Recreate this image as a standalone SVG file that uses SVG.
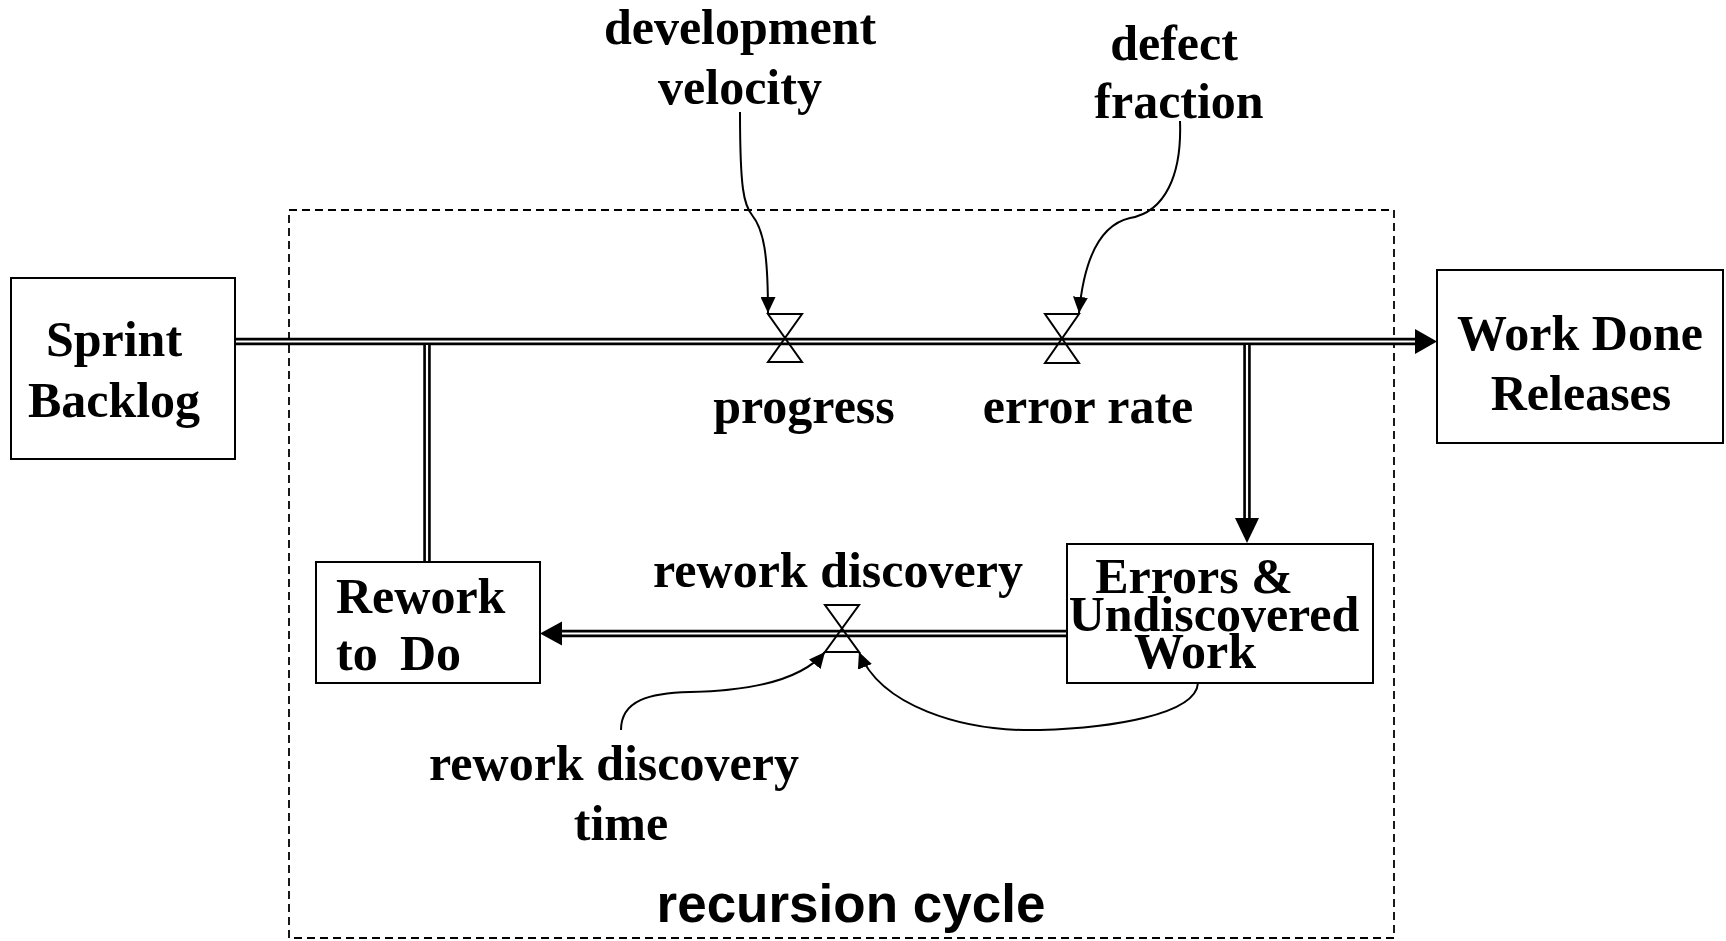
<svg xmlns="http://www.w3.org/2000/svg" width="1726" height="941" viewBox="0 0 1726 941">
  <style>
    .lbl { font-family: "Liberation Serif", "Times New Roman", serif; font-weight: bold; font-size: 50px; fill: #000; }
    .mid { text-anchor: middle; }
    .title { font-family: "Liberation Sans", Arial, sans-serif; font-weight: bold; font-size: 53px; fill: #000; text-anchor: middle; }
    .stock { fill: #fff; stroke: #000; stroke-width: 2; }
    .pipe-out { fill: none; stroke: #000; stroke-width: 7.5; }
    .pipe-in { fill: none; stroke: #fff; stroke-width: 2.2; }
    .valve { fill: none; stroke: #000; stroke-width: 2; stroke-linejoin: miter; }
    .link { fill: none; stroke: #000; stroke-width: 2; }
    .boundary { fill: none; stroke: #000; stroke-width: 1.8; stroke-dasharray: 8 5; }
  </style>
  <defs>
    <marker id="head" markerUnits="userSpaceOnUse" markerWidth="17" markerHeight="15" refX="16" refY="7.5" orient="auto">
      <path d="M0,0 L16,7.5 L0,15 z" fill="#000"/>
    </marker>
  </defs>
  <rect width="1726" height="941" fill="#fff"/>

  <!-- system boundary -->
  <g id="recursion-cycle">
    <rect class="boundary" x="289" y="210" width="1105" height="728"/>
    <text class="title" x="851" y="922">recursion cycle</text>
  </g>

  <!-- flows (pipes), valves and information links -->
  <g id="connectors">
    <!-- main flow: Sprint Backlog to Work Done -->
    <path class="pipe-out" d="M235,341.5 H1415"/>
    <path class="pipe-in" d="M235,341.5 H1417"/>
    <polygon points="1415,329 1437,341.5 1415,354" fill="#000"/>

    <!-- branch down to Errors & Undiscovered Work -->
    <path class="pipe-out" d="M1247,345 V519"/>
    <path class="pipe-in" d="M1247,345 V521"/>
    <polygon points="1235,518 1247,543 1259,518" fill="#000"/>

    <!-- rework back into the main flow -->
    <path class="pipe-out" d="M427,345 V562"/>
    <path class="pipe-in" d="M427,345 V562"/>

    <!-- rework discovery flow -->
    <path class="pipe-out" d="M561,633.5 H1067"/>
    <path class="pipe-in" d="M559,633.5 H1067"/>
    <polygon points="562,621.5 540,633.5 562,645.5" fill="#000"/>

    <!-- valves -->
    <path class="valve" d="M768,314 H802 L768,362 H802 Z"/>
    <path class="valve" d="M1045,314 H1079 L1045,363 H1079 Z"/>
    <path class="valve" d="M825,605 H859 L825,652 H859 Z"/>

    <!-- information links -->
    <path class="link" marker-end="url(#head)" d="M740,112 C740,190 744,205 752,215 C764,230 768,255 768,313"/>
    <path class="link" marker-end="url(#head)" d="M1180,121 C1182,175 1165,212 1130,218 C1095,226 1083,270 1079,313"/>
    <path class="link" marker-end="url(#head)" d="M621,730 C621,700 650,693 690,692 C745,691 800,682 825,652"/>
    <path class="link" marker-end="url(#head)" d="M1198,683 C1196,715 1110,728 1040,730 C960,732 880,705 859,652"/>
  </g>

  <g id="sprint-backlog">
    <rect class="stock" x="11" y="278" width="224" height="181"/>
    <text class="lbl mid" x="114" y="356">Sprint</text>
    <text class="lbl mid" x="114" y="417">Backlog</text>
  </g>

  <g id="work-done">
    <rect class="stock" x="1437" y="270" width="286" height="173"/>
    <text class="lbl mid" x="1580" y="350">Work Done</text>
    <text class="lbl mid" x="1581" y="410">Releases</text>
  </g>

  <g id="rework-to-do">
    <rect class="stock" x="316" y="562" width="224" height="121"/>
    <text class="lbl" x="336" y="613">Rework</text>
    <text class="lbl" y="670"><tspan x="336">to</tspan><tspan x="400">Do</tspan></text>
  </g>

  <g id="errors-undiscovered">
    <rect class="stock" x="1067" y="544" width="306" height="139"/>
    <text class="lbl mid" x="1194" y="593">Errors &amp;</text>
    <text class="lbl mid" x="1214" y="631">Undiscovered</text>
    <text class="lbl mid" x="1195" y="668">Work</text>
  </g>

  <g id="progress">
    <text class="lbl mid" x="804" y="423">progress</text>
  </g>
  <g id="error-rate">
    <text class="lbl mid" x="1088" y="423">error rate</text>
  </g>
  <g id="rework-discovery">
    <text class="lbl mid" x="838" y="587">rework discovery</text>
  </g>
  <g id="development-velocity">
    <text class="lbl mid" x="740" y="44">development</text>
    <text class="lbl mid" x="740" y="104">velocity</text>
  </g>
  <g id="defect-fraction">
    <text class="lbl mid" x="1174" y="60">defect</text>
    <text class="lbl mid" x="1179" y="118">fraction</text>
  </g>
  <g id="rework-discovery-time">
    <text class="lbl mid" x="614" y="780">rework discovery</text>
    <text class="lbl mid" x="621" y="840">time</text>
  </g>
</svg>
